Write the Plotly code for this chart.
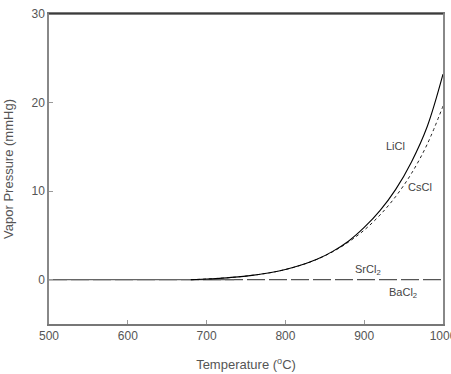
import plotly.graph_objects as go

temps_licl = [680, 700, 720, 740, 760, 780, 800, 820, 840, 860, 880, 900, 920, 940, 960, 980, 1000]
licl = [0.0, 0.08, 0.18, 0.32, 0.52, 0.78, 1.15, 1.65, 2.3, 3.2, 4.35, 5.9, 7.8, 10.2, 13.3, 17.3, 23.2]
temps_cscl = [680, 700, 720, 740, 760, 780, 800, 820, 840, 860, 880, 900, 920, 940, 960, 980, 1000]
cscl = [0.0, 0.08, 0.18, 0.32, 0.52, 0.78, 1.15, 1.65, 2.3, 3.15, 4.25, 5.6, 7.3, 9.4, 12.0, 15.3, 19.6]
temps_srcl2 = [500, 735]
srcl2 = [0, 0]
temps_bacl2 = [500, 1000]
bacl2 = [0, 0]

labels = ["LiCl", "CsCl", "SrCl<sub>2</sub>", "BaCl<sub>2</sub>"]
label_x = [940, 971, 905, 949]
label_y = [15.1, 10.5, 1.1, -1.5]

font = "Liberation Sans, Arial, sans-serif"
fig = go.Figure()
fig.add_trace(go.Scatter(x=temps_bacl2, y=bacl2, mode="lines",
                         line=dict(color="#555", width=1.2, dash="18px,4px"), showlegend=False))
fig.add_trace(go.Scatter(x=temps_srcl2, y=srcl2, mode="lines",
                         line=dict(color="#666", width=1.2), showlegend=False))
fig.add_trace(go.Scatter(x=temps_cscl, y=cscl, mode="lines", line_shape="spline",
                         line=dict(color="#222", width=1, dash="dot"), showlegend=False))
fig.add_trace(go.Scatter(x=temps_licl, y=licl, mode="lines", line_shape="spline",
                         line=dict(color="black", width=1.1), showlegend=False))

for t, x, y in zip(labels, label_x, label_y):
    fig.add_annotation(x=x, y=y, text=t, showarrow=False,
                       font=dict(family=font, size=11, color="#444"))

fig.add_shape(type="line", xref="paper", yref="paper", x0=0, x1=1, y0=1, y1=1,
              line=dict(color="black", width=1.2))

fig.update_layout(
    width=451, height=374,
    margin=dict(l=49, r=8, t=14, b=50),
    plot_bgcolor="white", paper_bgcolor="white",
    font=dict(family=font, size=12, color="#555"),
)
fig.update_xaxes(range=[500, 1000], tickvals=[500, 600, 700, 800, 900, 1000],
                 ticks="inside", ticklen=4, tickcolor="#999", automargin=False,
                 ticklabeloverflow="allow",
                 showline=True, linecolor="#777", linewidth=1.5, mirror=True,
                 showgrid=False, zeroline=False,
                 title=dict(text="Temperature (<sup>o</sup>C)", font=dict(size=13), standoff=18))
fig.update_yaxes(range=[-5, 30], tickvals=[0, 10, 20, 30],
                 ticks="inside", ticklen=4, tickcolor="#999", automargin=False,
                 showline=True, linecolor="#888", linewidth=1.5, mirror=True,
                 showgrid=False, zeroline=False,
                 title=dict(text="Vapor Pressure (mmHg)", font=dict(size=13), standoff=15))

fig.write_html("out.html", config={"displayModeBar": False},
               post_script="document.body.style.margin='0';")
